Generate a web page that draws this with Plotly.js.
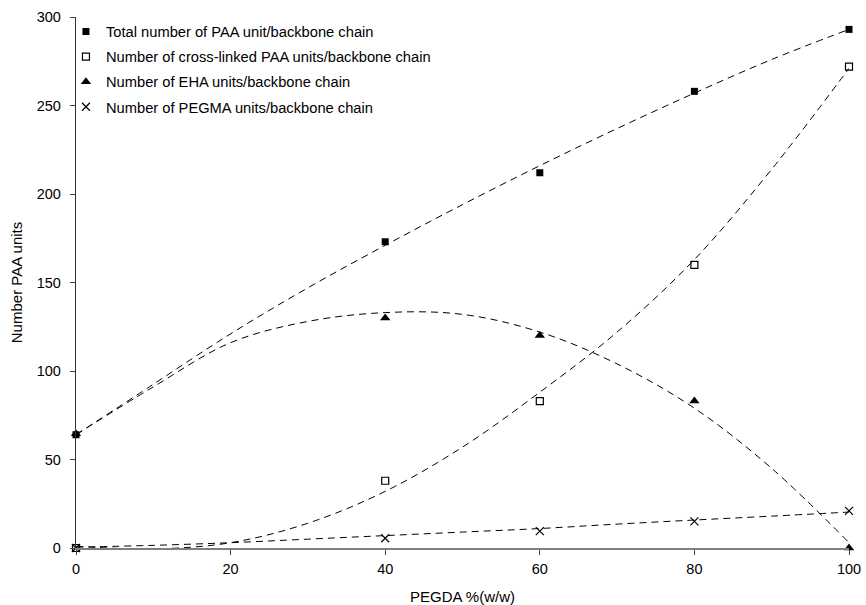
<!DOCTYPE html>
<html>
<head>
<meta charset="utf-8">
<script src="https://cdn.plot.ly/plotly-3.0.1.min.js"></script>
<style>html,body{margin:0;padding:0;background:#fff;}#chart{width:866px;height:605px;}</style>
</head>
<body>
<div id="chart"></div>
<script>
// Measured points
const pegdaX = [0, 40, 60, 80, 100];
const totalPAA = [64, 173, 212, 258, 293];
const crossLinkedPAA = [0, 38, 83, 160, 272];
const ehaUnits = [64.5, 130, 120, 83, 0];
const pegmaUnits = [0, 5.5, 9.5, 15, 21];

// Trend lines
const trendX = [0, 10, 20, 30, 40, 50, 60, 70, 80, 90, 100];
const totalTrend = [64, 92.5, 121, 147, 171, 194, 216, 237, 257, 276, 293];
const crossTrend = [1, -0.5, 3, 14, 32, 57, 88, 122, 163, 214, 271];
const ehaTrend = [64, 91, 116, 128, 133, 132, 122, 104, 79, 45, 3];
const pegmaTrend = [0.5, 1.5, 3, 5, 7, 9, 11, 13.5, 15.8, 18, 20.3];

const seriesNames = [
  "Total number of PAA unit/backbone chain",
  "Number of cross-linked PAA units/backbone chain",
  "Number of EHA units/backbone chain",
  "Number of PEGMA units/backbone chain"
];
const xTicks = [0, 20, 40, 60, 80, 100];
const yTicks = [0, 50, 100, 150, 200, 250, 300];

const FONT = "Arial, 'Liberation Sans', sans-serif";
const dashLine = {color: "#000", width: 1, dash: "7px,5px", shape: "spline", smoothing: 1};

function trend(y) {
  return {x: trendX, y: y, mode: "lines", line: dashLine, showlegend: false,
          hoverinfo: "skip", cliponaxis: false};
}
function pts(y, name, marker, grp) {
  return {x: pegdaX, y: y, name: name, mode: "markers", marker: marker,
          cliponaxis: false, legendgroup: grp};
}

const data = [
  trend(totalTrend), trend(crossTrend), trend(ehaTrend), trend(pegmaTrend),
  pts(totalPAA, seriesNames[0], {symbol: "square", size: 7, color: "#000"}, "a"),
  pts(crossLinkedPAA, seriesNames[1], {symbol: "square-open", size: 7, color: "#000", line: {width: 1.2, color: "#000"}}, "b"),
  pts(ehaUnits, seriesNames[2], {symbol: "triangle-up", size: 9, color: "#000"}, "c"),
  pts(pegmaUnits, seriesNames[3], {symbol: "x-thin-open", size: 8, color: "#000", line: {width: 1.2, color: "#000"}}, "d")
];

const layout = {
  width: 866, height: 605,
  margin: {l: 76, r: 17, t: 17, b: 57},
  paper_bgcolor: "#fff", plot_bgcolor: "#fff",
  font: {family: FONT, size: 14, color: "#000"},
  showlegend: true,
  legend: {x: -0.013, y: 1.003, xanchor: "left", yanchor: "top",
           bgcolor: "rgba(0,0,0,0)", font: {family: FONT, size: 14.7, color: "#000"},
           traceorder: "grouped", tracegroupgap: 3, itemwidth: 30},
  xaxis: {range: [0, 100], tickvals: xTicks, ticktext: xTicks.map(String),
          showgrid: false, zeroline: false, showline: true, linecolor: "#7f7f7f", linewidth: 1.5,
          ticks: "outside", ticklen: 5, tickcolor: "#444", tickwidth: 1,
          ticklabelstandoff: 2,
          tickfont: {family: FONT, size: 14.5},
          title: {text: "PEGDA %(w/w)", font: {family: FONT, size: 15}, standoff: 18}},
  yaxis: {range: [0, 300], tickvals: yTicks, ticktext: yTicks.map(String),
          showgrid: false, zeroline: false, showline: true, linecolor: "#333", linewidth: 1.2,
          ticks: "outside", ticklen: 5, tickcolor: "#444", tickwidth: 1,
          ticklabelstandoff: 6,
          tickfont: {family: FONT, size: 14.5},
          title: {text: "Number PAA units", font: {family: FONT, size: 15}, standoff: 10}}
};

Plotly.newPlot("chart", data, layout, {displayModeBar: false, staticPlot: true});
</script>
</body>
</html>
